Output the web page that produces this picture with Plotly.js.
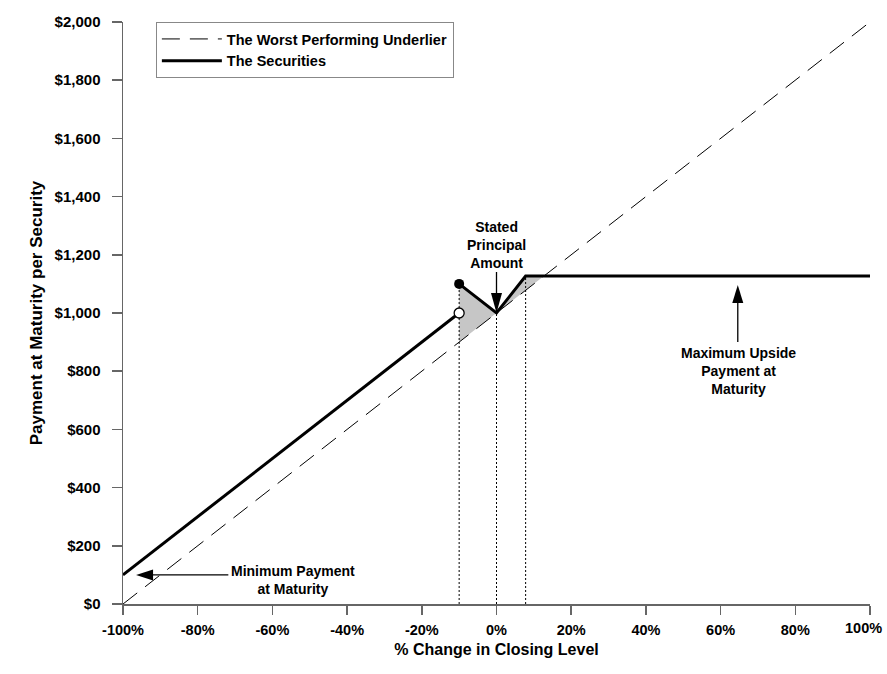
<!DOCTYPE html>
<html>
<head>
<meta charset="utf-8">
<script src="https://cdn.plot.ly/plotly-3.0.1.min.js"></script>
<style>
  html, body { margin: 0; padding: 0; background: #fff; }
  #chart { width: 887px; height: 674px; }
</style>
</head>
<body>
<div id="chart"></div>
<script>
// underlier: straight 1:1 line
var underlierX = [-100, 100];
var underlierY = [0, 2000];

// securities payoff (null splits the jump at -10%)
var securitiesX = [-100, -10, null, -10, 0, 7.8, 100];
var securitiesY = [100, 1000, null, 1100, 1000, 1127, 1127];

// shaded area between securities and underlier
var shadeX = [-10, -10, 0, 7.8, 12.7, 0, -10];
var shadeY = [900, 1100, 1000, 1127, 1127, 1000, 900];

// dotted drop lines
var dropX = [-10, -10, null, 0, 0, null, 7.8, 7.8];
var dropY = [0, 1100, null, 0, 1000, null, 0, 1127];

var openDotX = [-10], openDotY = [1000];
var fullDotX = [-10], fullDotY = [1100];

var xTickVals = [-100, -80, -60, -40, -20, 0, 20, 40, 60, 80, 100];
var xTickText = ['-100%', '-80%', '-60%', '-40%', '-20%', '0%', '20%', '40%', '60%', '80%', '100%'];
var yTickVals = [0, 200, 400, 600, 800, 1000, 1200, 1400, 1600, 1800, 2000];
var yTickText = ['$0', '$200', '$400', '$600', '$800', '$1,000', '$1,200', '$1,400', '$1,600', '$1,800', '$2,000'];

var FONT = 'Liberation Sans, Arial, sans-serif';

// last x label sits at the page edge, so it is drawn as an annotation pulled in a bit
var lastX = xTickVals.length - 1;
var axisTickText = xTickText.map(function(t, i) { return i == lastX ? '' : t; });

var data = [
    {
        x: shadeX, y: shadeY,
        mode: 'lines', fill: 'toself', fillcolor: '#c6c6c6',
        line: { width: 0, color: 'rgba(0,0,0,0)' },
        showlegend: false, hoverinfo: 'skip'
    },
    {
        x: dropX, y: dropY,
        mode: 'lines',
        line: { color: '#000', width: 1, dash: '2px,2px' },
        showlegend: false, hoverinfo: 'skip'
    },
    {
        x: underlierX, y: underlierY,
        mode: 'lines', name: 'The Worst Performing Underlier',
        line: { color: '#000', width: 1, dash: '18px,10px' }
    },
    {
        x: securitiesX, y: securitiesY,
        mode: 'lines', name: 'The Securities',
        line: { color: '#000', width: 3 },
        connectgaps: false
    },
    {
        x: openDotX, y: openDotY,
        mode: 'markers',
        marker: { size: 10, color: '#fff', line: { color: '#000', width: 1.3 } },
        showlegend: false
    },
    {
        x: fullDotX, y: fullDotY,
        mode: 'markers',
        marker: { size: 10, color: '#000' },
        showlegend: false
    }
];

// arrow stems (data coords) and heads (pixel-sized paths anchored at the tip)
var shapes = [
    { type: 'line', xref: 'x', yref: 'y', x0: 0, y0: 1141, x1: 0, y1: 1020, line: { color: '#000', width: 1.3 } },
    { type: 'path', xref: 'x', yref: 'y', xsizemode: 'pixel', ysizemode: 'pixel', xanchor: 0, yanchor: 1000,
      path: 'M0,0 L-5.5,20 L5.5,20 Z', fillcolor: '#000', line: { width: 0 } },

    { type: 'line', xref: 'x', yref: 'y', x0: 64.6, y0: 900, x1: 64.6, y1: 1080, line: { color: '#000', width: 1.3 } },
    { type: 'path', xref: 'x', yref: 'y', xsizemode: 'pixel', ysizemode: 'pixel', xanchor: 64.6, yanchor: 1096,
      path: 'M0,0 L-5.5,-18 L5.5,-18 Z', fillcolor: '#000', line: { width: 0 } },

    { type: 'line', xref: 'x', yref: 'y', x0: -71.8, y0: 100, x1: -93, y1: 100, line: { color: '#000', width: 1.3 } },
    { type: 'path', xref: 'x', yref: 'y', xsizemode: 'pixel', ysizemode: 'pixel', xanchor: -96.5, yanchor: 100,
      path: 'M0,0 L17,5.5 L17,-5.5 Z', fillcolor: '#000', line: { width: 0 } }
];

var annFont = { family: FONT, size: 14, color: '#000', weight: 'bold' };
var tickFontX = { family: FONT, size: 14.5, color: '#000', weight: 'bold' };
var tickFontY = { family: FONT, size: 15, color: '#000', weight: 'bold' };

var annotations = [
    { x: 0, y: 1235, xref: 'x', yref: 'y', text: 'Stated<br>Principal<br>Amount', showarrow: false,
      xanchor: 'center', yanchor: 'middle', font: annFont },
    { x: 64.7, y: 799, xref: 'x', yref: 'y', text: 'Maximum Upside<br>Payment at<br>Maturity', showarrow: false,
      xanchor: 'center', yanchor: 'middle', font: annFont },
    { x: -54.4, y: 82, xref: 'x', yref: 'y', text: 'Minimum Payment<br>at Maturity', showarrow: false,
      xanchor: 'center', yanchor: 'middle', font: annFont },
    { x: xTickVals[lastX], y: 0, xref: 'x', yref: 'paper', text: xTickText[lastX], showarrow: false,
      xanchor: 'right', yanchor: 'top', xshift: 14, yshift: -14, font: tickFontX }
];

var layout = {
    width: 887,
    height: 674,
    margin: { l: 123, r: 17, t: 22, b: 70 },
    paper_bgcolor: '#fff',
    plot_bgcolor: '#fff',
    font: { family: FONT, color: '#000' },
    xaxis: {
        range: [-100, 100],
        tickvals: xTickVals, ticktext: axisTickText,
        tickfont: tickFontX,
        ticks: 'outside', ticklen: 9, tickwidth: 1.5, tickcolor: '#666',
        showline: true, linecolor: '#666', linewidth: 1.5,
        showgrid: false, zeroline: false,
        ticklabelstandoff: 3,
        title: { text: '% Change in Closing Level', font: { family: FONT, size: 16, color: '#000', weight: 'bold' }, standoff: 7 }
    },
    yaxis: {
        range: [0, 2000],
        tickvals: yTickVals, ticktext: yTickText,
        tickfont: tickFontY,
        ticks: 'outside', ticklen: 10, tickwidth: 1.5, tickcolor: '#666',
        showline: true, linecolor: '#666', linewidth: 1.5,
        showgrid: false, zeroline: false,
        ticklabelstandoff: 8,
        title: { text: 'Payment at Maturity per Security', font: { family: FONT, size: 17, color: '#000', weight: 'bold' }, standoff: 7 }
    },
    legend: {
        x: 0.044, y: 1.0, xanchor: 'left', yanchor: 'top',
        bgcolor: '#fff', bordercolor: '#888', borderwidth: 1,
        itemwidth: 60,
        font: { family: FONT, size: 14.5, color: '#000', weight: 'bold' }
    },
    shapes: shapes,
    annotations: annotations,
    showlegend: true
};

var config = { displayModeBar: false, staticPlot: true };
Plotly.newPlot('chart', data, layout, config);
</script>
</body>
</html>
